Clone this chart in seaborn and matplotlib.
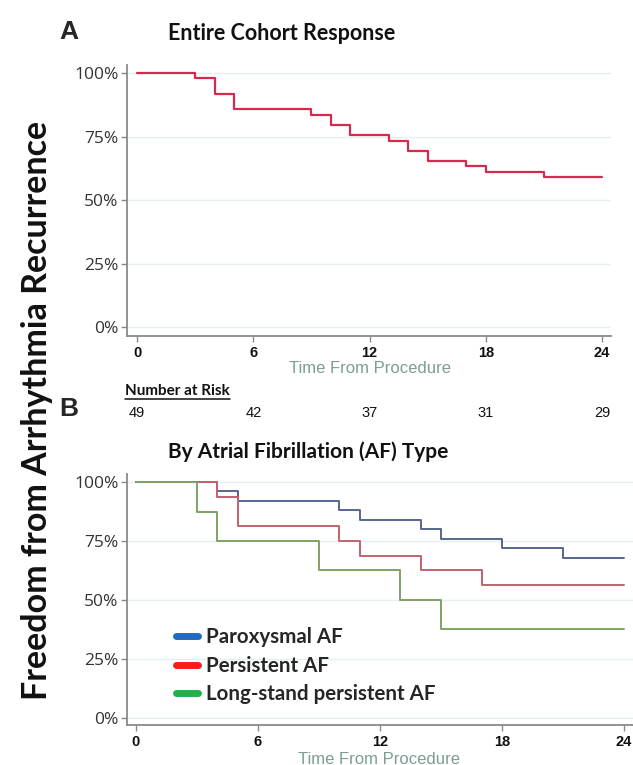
import numpy as np
import pandas as pd
import matplotlib
matplotlib.use("Agg")
import matplotlib.pyplot as plt
import matplotlib.transforms as mtransforms
from matplotlib.lines import Line2D
import seaborn as sns

# Kaplan-Meier style survival (percent free of recurrence)
time_all = [0, 3, 4, 5, 9, 10, 11, 13, 14, 15, 17, 18, 21, 24]
surv_all = [100, 97.96, 91.84, 85.71, 83.67, 79.59, 75.51, 73.47, 69.39, 65.31, 63.27, 61.22, 59.18, 59.18]

time_parox = [0, 4, 5, 10, 11, 14, 15, 18, 21, 24]
surv_parox = [100, 96, 92, 88, 84, 80, 76, 72, 68, 68]
time_pers = [0, 4, 5, 10, 11, 14, 17, 24]
surv_pers = [100, 93.75, 81.25, 75, 68.75, 62.5, 56.25, 56.25]
time_long = [0, 3, 4, 9, 13, 15, 24]
surv_long = [100, 87.5, 75, 62.5, 50, 37.5, 37.5]

groups = ["Paroxysmal AF", "Persistent AF", "Long-stand persistent AF"]
line_colors = ["#56668e", "#c4616f", "#80a262"]
legend_colors = ["#1f6bbf", "#ff1a1a", "#22b04b"]

risk_times = [0, 6, 12, 18, 24]
risk_counts = [49, 42, 37, 31, 29]

x_ticks = [0, 6, 12, 18, 24]
y_ticks = [0, 25, 50, 75, 100]
y_labels = ["0%", "25%", "50%", "75%", "100%"]

sns.set_style("white")
plt.rcParams["font.family"] = ["Lato", "DejaVu Sans"]

W, H = 633, 765
fig = plt.figure(figsize=(W / 100, H / 100), dpi=100)


def px_axes(left, top, right, bottom):
    return fig.add_axes([left / W, 1 - bottom / H, (right - left) / W, (bottom - top) / H])


def style_axis(ax, xlim, ylim):
    ax.set_xlim(*xlim)
    ax.set_ylim(*ylim)
    for s in ["top", "right"]:
        ax.spines[s].set_visible(False)
    for s in ["left", "bottom"]:
        ax.spines[s].set_color("#8a8a8a")
        ax.spines[s].set_linewidth(1.3)
    ax.set_xticks(x_ticks)
    ax.set_xticklabels([str(t) for t in x_ticks], fontfamily="Liberation Sans",
                       fontsize=10.5, color="#111111", fontweight="bold")
    ax.set_yticks(y_ticks)
    ax.set_yticklabels(y_labels, fontfamily="Open Sans", fontsize=12.5, color="#333333")
    ax.tick_params(axis="both", which="both", direction="out", length=4, width=1,
                   color="#8a8a8a", bottom=True, left=True)
    ax.tick_params(axis="y", pad=2)
    ax.tick_params(axis="x", pad=3)
    for y in y_ticks:
        ax.axhline(y, color="#e6f0f3", lw=1, zorder=0)
    ax.set_xlabel("")
    ax.set_ylabel("")


# ---- Panel A
ax1 = px_axes(127, 65, 611, 336)
df_all = pd.DataFrame({"time": time_all, "surv": surv_all})
sns.lineplot(data=df_all, x="time", y="surv", ax=ax1, color="#d32a4e", lw=1.6,
             drawstyle="steps-post", estimator=None)
style_axis(ax1, (-0.52, 24.46), (-3.5, 103.2))
fig.text(370 / W, 1 - 368 / H, "Time From Procedure", fontfamily="Liberation Sans",
         fontsize=12, color="#7b9d95", ha="center", va="center")

# number at risk
nar = fig.text(125 / W, 1 - 391 / H, "Number at Risk", fontsize=11, fontweight="bold",
               ha="left", va="center", color="#111111")
fig.canvas.draw()
bb = nar.get_window_extent()
fig.add_artist(Line2D([bb.x0 / W, bb.x1 / W], [(bb.y0 - 1) / H, (bb.y0 - 1) / H],
                      transform=fig.transFigure, color="#111111", lw=1.1))
trans = mtransforms.blended_transform_factory(ax1.transData, fig.transFigure)
for t, n in zip(risk_times, risk_counts):
    ax1.text(t, 1 - 413 / H, str(n), transform=trans, ha="center", va="center",
             fontfamily="Liberation Sans", fontsize=10.5, color="#111111", clip_on=False)

# ---- Panel B
ax2 = px_axes(127, 474, 633, 725)
df_b = pd.concat([
    pd.DataFrame({"time": time_parox, "surv": surv_parox, "group": groups[0]}),
    pd.DataFrame({"time": time_pers, "surv": surv_pers, "group": groups[1]}),
    pd.DataFrame({"time": time_long, "surv": surv_long, "group": groups[2]}),
])
sns.lineplot(data=df_b, x="time", y="surv", hue="group", hue_order=groups,
             palette=line_colors, ax=ax2, lw=1.4, drawstyle="steps-post",
             estimator=None, legend=False)
style_axis(ax2, (-0.44, 24.44), (-3.0, 103.4))
fig.text(379 / W, 1 - 759 / H, "Time From Procedure", fontfamily="Liberation Sans",
         fontsize=12, color="#7b9d95", ha="center", va="center")

handles = [Line2D([0], [0], color=c, lw=5) for c in legend_colors]
leg = ax2.legend(handles, groups, loc="upper left", bbox_to_anchor=(168 / W, 1 - 619 / H),
                 bbox_transform=fig.transFigure, frameon=False, handlelength=1.05,
                 handletextpad=0.4, labelspacing=0.42, borderaxespad=0,
                 prop={"family": "Lato", "weight": "bold", "size": 14.8})

# ---- titles and labels
fig.text(69 / W, 1 - 32 / H, "A", fontfamily="Liberation Sans", fontweight="bold",
         fontsize=19, ha="center", va="center")
fig.text(69 / W, 1 - 409 / H, "B", fontfamily="Liberation Sans", fontweight="bold",
         fontsize=19, ha="center", va="center")
fig.text(168 / W, 1 - 33 / H, "Entire Cohort Response", fontweight="bold", fontsize=15.5,
         ha="left", va="center", color="#111111")
fig.text(168 / W, 1 - 452 / H, "By Atrial Fibrillation (AF) Type", fontweight="bold",
         fontsize=15, ha="left", va="center", color="#111111")
fig.text(37 / W, 1 - 410 / H, "Freedom from Arrhythmia Recurrence", fontweight="bold",
         fontsize=24.5, rotation=90, ha="center", va="center", color="#111111")

fig.savefig("out.png", dpi=100)
